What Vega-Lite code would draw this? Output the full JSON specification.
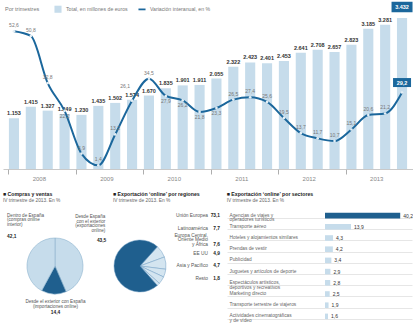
{
  "$schema": "https://vega.github.io/schema/vega-lite/v6.json",
  "background": "white",
  "padding": {"left": 3, "top": 1, "right": 0, "bottom": 0},
  "spacing": 11,
  "config": {
    "font": "Liberation Sans",
    "view": {"stroke": null},
    "locale": {"number": {"decimal": ",", "thousands": ".", "grouping": [3], "currency": ["", " €"]}},
    "title": {"anchor": "start", "frame": "bounds", "fontSize": 5.2, "fontWeight": "bold", "color": "#222", "subtitleFontSize": 4.8, "subtitleColor": "#666", "subtitlePadding": 1, "offset": 7}
  },
  "datasets": {
    "trimestres": [
      {"trimestre": "2008 T1", "total": 1153, "variacion": 52.6},
      {"trimestre": "2008 T2", "total": 1415, "variacion": 50.8},
      {"trimestre": "2008 T3", "total": 1327, "variacion": 32.8},
      {"trimestre": "2008 T4", "total": 1249, "variacion": 22.2},
      {"trimestre": "2009 T1", "total": 1230, "variacion": 5.9},
      {"trimestre": "2009 T2", "total": 1435, "variacion": 1.4},
      {"trimestre": "2009 T3", "total": 1502, "variacion": 13.2},
      {"trimestre": "2009 T4", "total": 1574, "variacion": 26.1},
      {"trimestre": "2010 T1", "total": 1670, "variacion": 34.5},
      {"trimestre": "2010 T2", "total": 1835, "variacion": 27.9},
      {"trimestre": "2010 T3", "total": 1901, "variacion": 26.2},
      {"trimestre": "2010 T4", "total": 1911, "variacion": 21.8},
      {"trimestre": "2011 T1", "total": 2055, "variacion": 23.3},
      {"trimestre": "2011 T2", "total": 2322, "variacion": 26.5},
      {"trimestre": "2011 T3", "total": 2423, "variacion": 27.4},
      {"trimestre": "2011 T4", "total": 2401, "variacion": 25.6},
      {"trimestre": "2012 T1", "total": 2453, "variacion": 19.5},
      {"trimestre": "2012 T2", "total": 2641, "variacion": 13.7},
      {"trimestre": "2012 T3", "total": 2708, "variacion": 11.7},
      {"trimestre": "2012 T4", "total": 2657, "variacion": 10.7},
      {"trimestre": "2013 T1", "total": 2823, "variacion": 15.1},
      {"trimestre": "2013 T2", "total": 3185, "variacion": 20.6},
      {"trimestre": "2013 T3", "total": 3281, "variacion": 21.2},
      {"trimestre": "2013 T4", "total": 3432, "variacion": 29.2}
    ],
    "compras": [
      {"tipo": "Desde España con el exterior", "etiqueta": "Desde España|con el exterior|(exportaciones|online)", "pct": 43.5, "orden": 1},
      {"tipo": "Desde el exterior con España", "etiqueta": "Desde el exterior con España|(importaciones online)", "pct": 14.4, "orden": 2},
      {"tipo": "Dentro de España", "etiqueta": "Dentro de España|(compras online|interior)", "pct": 42.1, "orden": 3}
    ],
    "regiones": [
      {"region": "Latinoamérica", "etiqueta": "Latinoamérica", "pct": 7.7, "orden": 1},
      {"region": "Europa Central, Oriente Medio y África", "etiqueta": "Europa Central,|Oriente Medio|y África", "pct": 7.6, "orden": 2},
      {"region": "EE UU", "etiqueta": "EE UU", "pct": 4.9, "orden": 3},
      {"region": "Asia y Pacífico", "etiqueta": "Asia y Pacífico", "pct": 4.7, "orden": 4},
      {"region": "Resto", "etiqueta": "Resto", "pct": 1.8, "orden": 5},
      {"region": "Unión Europea", "etiqueta": "Unión Europea", "pct": 73.1, "orden": 6}
    ],
    "sectores": [
      {"sector": "Agencias de viajes y|operadores turísticos", "pct": 40.2},
      {"sector": "Transporte aéreo", "pct": 13.9},
      {"sector": "Hoteles y alojamientos similares", "pct": 4.3},
      {"sector": "Prendas de vestir", "pct": 4.2},
      {"sector": "Publicidad", "pct": 3.4},
      {"sector": "Juguetes y artículos de deporte", "pct": 2.9},
      {"sector": "Espectáculos artísticos,|deportivos y recreativos", "pct": 2.8},
      {"sector": "Marketing directo", "pct": 2.5},
      {"sector": "Transporte terrestre de viajeros", "pct": 1.9},
      {"sector": "Actividades cinematográficas|y de vídeo", "pct": 1.6}
    ]
  },
  "vconcat": [
    {
      "width": 410,
      "height": 166,
      "data": {"name": "trimestres"},
      "encoding": {
        "x": {
          "field": "trimestre", "type": "ordinal", "sort": null,
          "scale": {"paddingInner": 0.4, "paddingOuter": 0.35},
          "axis": {
            "title": null, "labelAngle": 0, "domainColor": "#bbb", "domainWidth": 0.8,
            "tickColor": "#999", "tickWidth": 0.8, "tickSize": 5, "bandPosition": 0,
            "tickOpacity": {"condition": {"test": "slice(datum.value, 5) == 'T1'", "value": 1}, "value": 0},
            "labelExpr": "slice(datum.value, 5) == 'T3' ? slice(datum.value, 0, 4) : ''",
            "labelOffset": -8.4, "labelFontSize": 6, "labelColor": "#888", "labelPadding": 1, "labelOverlap": false
          }
        }
      },
      "layer": [
        {
          "mark": {"type": "bar"},
          "encoding": {
            "y": {"field": "total", "type": "quantitative", "scale": {"domain": [0, 3773]}, "axis": null},
            "color": {
              "datum": "Total, en millones de euros", "type": "nominal",
              "scale": {"domain": ["Total, en millones de euros", "Variación interanual, en %"], "range": ["#c6dceb", "#1b679c"]},
              "legend": {
                "orient": "top-left", "direction": "horizontal", "offset": 2, "padding": 0,
                "title": "Por trimestres", "titleOrient": "left", "titleFontSize": 5.5, "titleFontWeight": "normal", "titleColor": "#777", "titlePadding": 14,
                "labelFontSize": 5.2, "labelColor": "#777", "symbolSize": 50, "columnPadding": 10, "symbolStrokeWidth": 0,
                "encode": {"symbols": {"update": {
                  "shape": {"signal": "datum.value == 'Total, en millones de euros' ? 'square' : 'M-1,-0.25H1V0.25H-1Z'"},
                  "fill": {"signal": "datum.value == 'Total, en millones de euros' ? '#c6dceb' : '#1b679c'"},
                  "opacity": {"value": 1}
                }}}
              }
            }
          }
        },
        {
          "transform": [{"filter": "datum.trimestre != '2013 T4'"}],
          "mark": {"type": "text", "fontSize": 5.5, "fontWeight": "bold", "color": "#333", "baseline": "bottom", "dy": -2},
          "encoding": {
            "y": {"field": "total", "type": "quantitative", "scale": {"domain": [0, 3773]}, "axis": null},
            "text": {"field": "total", "type": "quantitative", "format": ","}
          }
        },
        {
          "mark": {"type": "line", "strokeWidth": 2, "interpolate": "monotone"},
          "encoding": {
            "y": {"field": "variacion", "type": "quantitative", "scale": {"domain": [0, 63.4]}, "axis": null},
            "color": {"datum": "Variación interanual, en %", "type": "nominal"}
          }
        },
        {
          "mark": {"type": "circle", "size": 7, "color": "#e3eef5", "opacity": 1},
          "encoding": {
            "y": {"field": "variacion", "type": "quantitative", "scale": {"domain": [0, 63.4]}, "axis": null}
          }
        },
        {
          "transform": [{"filter": "indexof(['2008 T4', '2009 T4', '2010 T2', '2010 T3', '2010 T4', '2011 T1', '2013 T4'], datum.trimestre) < 0"}],
          "mark": {"type": "text", "fontSize": 5, "color": "#777", "baseline": "bottom", "dy": -3},
          "encoding": {
            "y": {"field": "variacion", "type": "quantitative", "scale": {"domain": [0, 63.4]}, "axis": null},
            "text": {"field": "variacion", "type": "quantitative", "format": ".1f"}
          }
        },
        {
          "transform": [{"filter": "indexof(['2008 T4', '2010 T2', '2010 T3', '2010 T4', '2011 T1'], datum.trimestre) >= 0"}],
          "mark": {"type": "text", "fontSize": 5, "color": "#777", "baseline": "top", "dy": 3},
          "encoding": {
            "y": {"field": "variacion", "type": "quantitative", "scale": {"domain": [0, 63.4]}, "axis": null},
            "text": {"field": "variacion", "type": "quantitative", "format": ".1f"}
          }
        },
        {
          "transform": [{"filter": "datum.trimestre == '2009 T4'"}],
          "mark": {"type": "text", "fontSize": 5, "color": "#777", "align": "right", "baseline": "middle", "dx": -2, "dy": -15},
          "encoding": {
            "y": {"field": "variacion", "type": "quantitative", "scale": {"domain": [0, 63.4]}, "axis": null},
            "text": {"field": "variacion", "type": "quantitative", "format": ".1f"}
          }
        },
        {
          "transform": [{"filter": "datum.trimestre == '2013 T4'"}],
          "mark": {"type": "point", "shape": "M-1,-0.5H1V0.5H-1Z", "size": 441, "filled": true, "color": "#1b679c", "opacity": 1, "yOffset": -11},
          "encoding": {
            "y": {"field": "total", "type": "quantitative", "scale": {"domain": [0, 3773]}, "axis": null}
          }
        },
        {
          "transform": [{"filter": "datum.trimestre == '2013 T4'"}],
          "mark": {"type": "text", "fontSize": 5.5, "fontWeight": "bold", "color": "white", "baseline": "middle", "dy": -11},
          "encoding": {
            "y": {"field": "total", "type": "quantitative", "scale": {"domain": [0, 3773]}, "axis": null},
            "text": {"field": "total", "type": "quantitative", "format": ","}
          }
        },
        {
          "transform": [{"filter": "datum.trimestre == '2013 T4'"}],
          "mark": {"type": "point", "shape": "M-1,-0.5H1V0.5H-1Z", "size": 324, "filled": true, "color": "#1b679c", "opacity": 1, "yOffset": -10},
          "encoding": {
            "y": {"field": "variacion", "type": "quantitative", "scale": {"domain": [0, 63.4]}, "axis": null}
          }
        },
        {
          "transform": [{"filter": "datum.trimestre == '2013 T4'"}],
          "mark": {"type": "text", "fontSize": 5.5, "fontWeight": "bold", "color": "white", "baseline": "middle", "dy": -10},
          "encoding": {
            "y": {"field": "variacion", "type": "quantitative", "scale": {"domain": [0, 63.4]}, "axis": null},
            "text": {"field": "variacion", "type": "quantitative", "format": ".1f"}
          }
        }
      ],
      "resolve": {"scale": {"y": "independent"}}
    },
    {
      "spacing": 6,
      "hconcat": [
        {
          "title": {"text": "■ Compras y ventas", "subtitle": "   IV trimestre de 2013. En %"},
          "width": 104,
          "height": 112,
          "data": {"name": "compras"},
          "encoding": {
            "theta": {"field": "pct", "type": "quantitative", "stack": true},
            "order": {"field": "orden", "type": "quantitative"}
          },
          "layer": [
            {
              "mark": {"type": "arc", "outerRadius": 28, "stroke": "#8db3cf", "strokeWidth": 0.6},
              "encoding": {
                "color": {"condition": {"test": "datum.orden == 2", "value": "#1f5f8e"}, "value": "#c6dceb"}
              }
            },
            {
              "mark": {"type": "text", "radius": 34, "align": "right", "baseline": "middle", "dx": 17, "dy": -42, "fontSize": 4.6, "lineHeight": 4.6, "lineBreak": "|", "color": "#555"},
              "encoding": {"text": {"condition": {"test": "datum.orden == 1", "field": "etiqueta", "type": "nominal"}, "value": ""}}
            },
            {
              "mark": {"type": "text", "radius": 34, "align": "right", "baseline": "middle", "dx": 18, "dy": -18, "fontSize": 4.8, "fontWeight": "bold", "color": "#222"},
              "encoding": {"text": {"condition": {"test": "datum.orden == 1", "field": "pct", "type": "quantitative", "format": ".1f"}, "value": ""}}
            },
            {
              "mark": {"type": "text", "radius": 34, "align": "center", "baseline": "middle", "dx": 2, "dy": 2, "fontSize": 4.6, "lineHeight": 4.6, "lineBreak": "|", "color": "#555"},
              "encoding": {"text": {"condition": {"test": "datum.orden == 2", "field": "etiqueta", "type": "nominal"}, "value": ""}}
            },
            {
              "mark": {"type": "text", "radius": 34, "align": "center", "baseline": "middle", "dx": 2, "dy": 13, "fontSize": 4.8, "fontWeight": "bold", "color": "#222"},
              "encoding": {"text": {"condition": {"test": "datum.orden == 2", "field": "pct", "type": "quantitative", "format": ".1f"}, "value": ""}}
            },
            {
              "mark": {"type": "text", "radius": 34, "align": "left", "baseline": "middle", "dx": -15, "dy": -42, "fontSize": 4.6, "lineHeight": 4.6, "lineBreak": "|", "color": "#555"},
              "encoding": {"text": {"condition": {"test": "datum.orden == 3", "field": "etiqueta", "type": "nominal"}, "value": ""}}
            },
            {
              "mark": {"type": "text", "radius": 34, "align": "left", "baseline": "middle", "dx": -15, "dy": -21, "fontSize": 4.8, "fontWeight": "bold", "color": "#222"},
              "encoding": {"text": {"condition": {"test": "datum.orden == 3", "field": "pct", "type": "quantitative", "format": ".1f"}, "value": ""}}
            }
          ]
        },
        {
          "title": {"text": "■ Exportación ‘online’ por regiones", "subtitle": "   IV trimestre de 2013. En %"},
          "spacing": 0,
          "hconcat": [
            {
              "width": 54,
              "height": 112,
              "data": {"name": "regiones"},
              "mark": {"type": "arc", "outerRadius": 26, "stroke": "#6f9dc3", "strokeWidth": 0.5},
              "encoding": {
                "theta": {"field": "pct", "type": "quantitative", "stack": true, "scale": {"range": [0.733, 7.016]}},
                "order": {"field": "orden", "type": "quantitative"},
                "color": {"condition": {"test": "datum.orden == 6", "value": "#1f5f8e"}, "value": "#d4e5f0"}
              }
            },
            {
              "width": 53,
              "height": 75,
              "data": {"name": "regiones"},
              "encoding": {
                "y": {"field": "region", "type": "nominal", "sort": ["Unión Europea", "Latinoamérica", "Europa Central, Oriente Medio y África", "EE UU", "Asia y Pacífico", "Resto"], "scale": {"type": "point", "padding": 0.5}, "axis": null},
                "x": {"value": "width"}
              },
              "layer": [
                {
                  "mark": {"type": "text", "align": "right", "baseline": "middle", "dx": -12, "dy": {"expr": "datum.orden == 2 ? -5.5 : 0"}, "fontSize": 4.8, "lineHeight": 4.6, "lineBreak": "|", "color": "#555"},
                  "encoding": {"text": {"field": "etiqueta", "type": "nominal"}}
                },
                {
                  "mark": {"type": "text", "align": "right", "baseline": "middle", "dy": {"expr": "datum.orden == 2 ? 3.7 : 0"}, "fontSize": 4.8, "fontWeight": "bold", "color": "#222"},
                  "encoding": {"text": {"field": "pct", "type": "quantitative", "format": ".1f"}}
                }
              ]
            }
          ]
        },
        {
          "title": {"text": "■ Exportación ‘online’ por sectores", "subtitle": "   IV trimestre de 2013. En %"},
          "width": 87,
          "height": 112,
          "data": {"name": "sectores"},
          "encoding": {
            "y": {
              "field": "sector", "type": "nominal", "sort": null,
              "scale": {"paddingInner": 0.5, "paddingOuter": 0.25},
              "axis": {
                "title": null, "domain": false, "tickSize": 98, "tickColor": "#ccc", "tickWidth": 0.5, "bandPosition": 1,
                "grid": true, "gridColor": "#ccc", "gridWidth": 0.5,
                "labelAlign": "left", "labelBaseline": "middle", "labelPadding": -2, "labelFontSize": 4.8, "labelLineHeight": 4.8,
                "labelColor": "#666", "labelLimit": 0, "labelExpr": "split(datum.label, '|')"
              }
            }
          },
          "layer": [
            {
              "mark": {"type": "bar"},
              "encoding": {
                "x": {"field": "pct", "type": "quantitative", "scale": {"domain": [0, 46.5]}, "axis": null},
                "color": {"condition": {"test": "datum.pct > 30", "value": "#1f5f8e"}, "value": "#c6dceb"}
              }
            },
            {
              "mark": {"type": "text", "align": "left", "baseline": "middle", "dx": 3, "fontSize": 5, "color": "#333"},
              "encoding": {
                "x": {"field": "pct", "type": "quantitative", "scale": {"domain": [0, 46.5]}, "axis": null},
                "text": {"field": "pct", "type": "quantitative", "format": ".1f"}
              }
            }
          ]
        }
      ]
    }
  ]
}
